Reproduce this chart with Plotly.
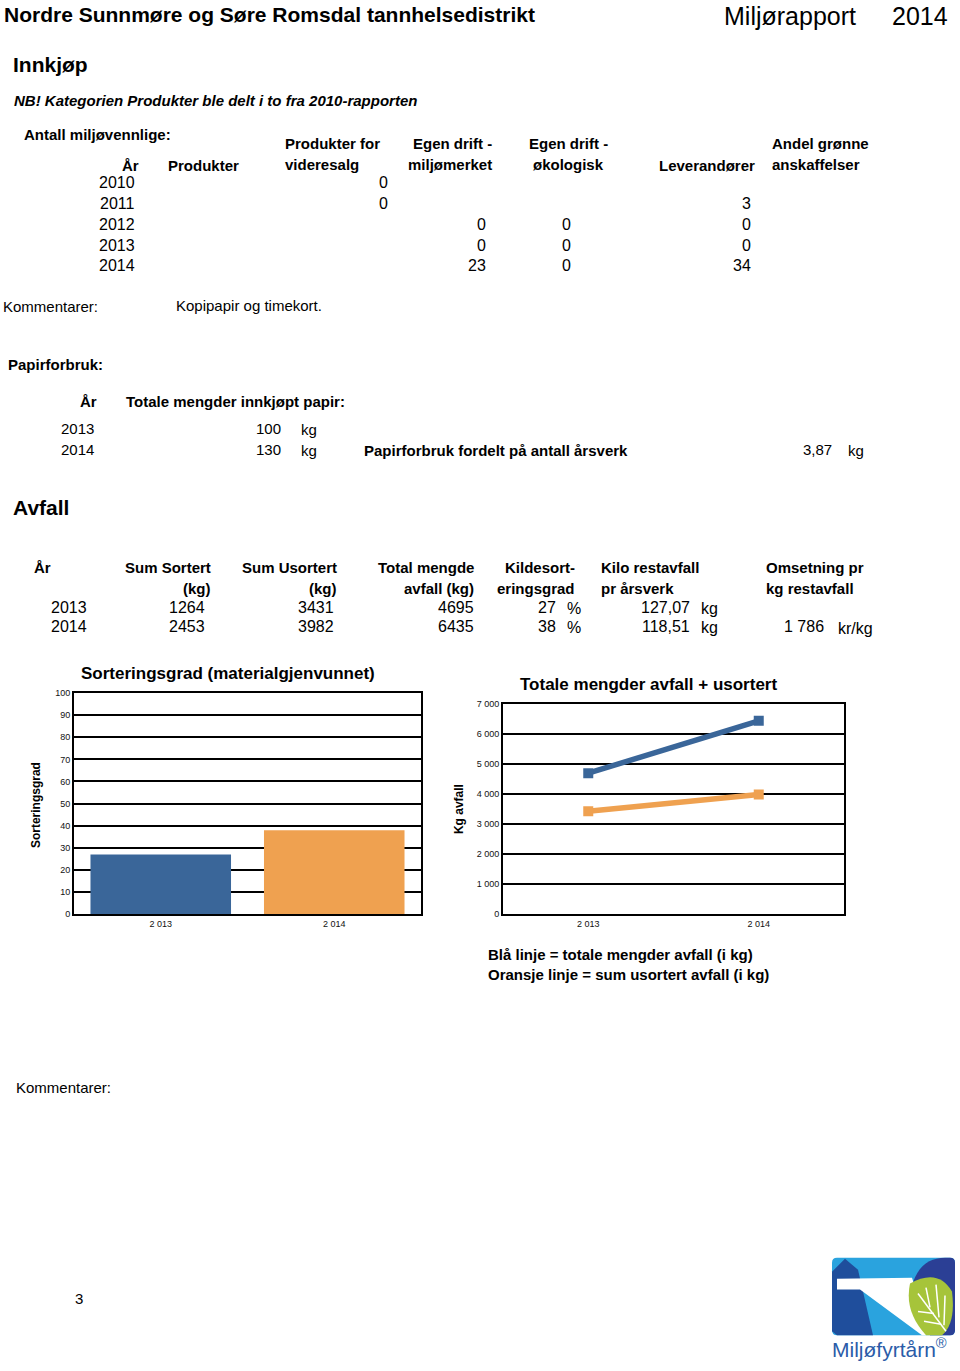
import plotly.graph_objects as go

W, H = 960, 1371

# ---------------- data ----------------
innkjop_years = [2010, 2011, 2012, 2013, 2014]
videresalg = [0, 0, None, None, None]
miljomerket = [None, None, 0, 0, 23]
okologisk = [None, None, 0, 0, 0]
leverandorer = [None, 3, 0, 0, 34]

papir_years = [2013, 2014]
papir_kg = [100, 130]
papir_per_aarsverk = "3,87"

avfall_years = [2013, 2014]
sum_sortert = [1264, 2453]
sum_usortert = [3431, 3982]
total_mengde = [4695, 6435]
kildesortering = [27, 38]
kilo_rest = ["127,07", "118,51"]
omsetning = [None, "1 786"]

chart_cats = ["2013", "2014"]
chart_ticktext = ["2 013", "2 014"]
bar_yticks = [0, 10, 20, 30, 40, 50, 60, 70, 80, 90, 100]
line_yticks = [0, 1000, 2000, 3000, 4000, 5000, 6000, 7000]
line_yticktext = ["0", "1 000", "2 000", "3 000", "4 000", "5 000", "6 000", "7 000"]

BLUE = "#3A6699"
ORANGE = "#EFA150"
ARIAL = "Liberation Sans, Arial, sans-serif"
NARROW = "Liberation Sans, Arial, sans-serif"

ann = []


def T(x, y, s, size=15, bold=False, anchor="left", font=ARIAL, color="#000",
      italic=False, angle=0):
    y = y - 2
    if bold:
        s = "<b>" + s + "</b>"
    if italic:
        s = "<i>" + s + "</i>"
    ann.append(dict(x=x / W, y=1 - y / H, xref="paper", yref="paper", text=s,
                    showarrow=False, xanchor=anchor, yanchor="middle",
                    textangle=angle,
                    font=dict(family=font, size=size, color=color)))


# ---------------- header ----------------
T(2, 12, "Nordre Sunnmøre og Søre Romsdal tannhelsedistrikt", 21, True, font=NARROW)
T(722, 13, "Miljørapport", 25, font=NARROW)
T(950, 13, "2014", 25, anchor="right", font=NARROW)

T(11, 62, "Innkjøp", 21, True, font=NARROW)
T(12, 98, "NB! Kategorien Produkter ble delt i to fra 2010-rapporten", 15, True,
  font=NARROW, italic=True)

TS = 15
T(22, 132, "Antall miljøvennlige:", TS, True, font=NARROW)
T(141, 164, "År", TS, True, anchor="right", font=NARROW)
T(166, 164, "Produkter", TS, True, font=NARROW)
T(283, 142, "Produkter for", TS, True, font=NARROW)
T(283, 163, "videresalg", TS, True, font=NARROW)
T(452, 142, "Egen drift -", TS, True, anchor="center", font=NARROW)
T(450, 163, "miljømerket", TS, True, anchor="center", font=NARROW)
T(568, 142, "Egen drift -", TS, True, anchor="center", font=NARROW)
T(568, 163, "økologisk", TS, True, anchor="center", font=NARROW)
T(757, 164, "Leverandører", TS, True, anchor="right", font=NARROW)
T(770, 142, "Andel grønne", TS, True, font=NARROW)
T(770, 163, "anskaffelser", TS, True, font=NARROW)

row_y = [181, 202, 223, 244, 264]
for i, yr in enumerate(innkjop_years):
    y = row_y[i]
    T(137, y, str(yr), 16, anchor="right", font=NARROW)
    if videresalg[i] is not None:
        T(390, y, str(videresalg[i]), 16, anchor="right", font=NARROW)
    if miljomerket[i] is not None:
        T(488, y, str(miljomerket[i]), 16, anchor="right", font=NARROW)
    if okologisk[i] is not None:
        T(573, y, str(okologisk[i]), 16, anchor="right", font=NARROW)
    if leverandorer[i] is not None:
        T(753, y, str(leverandorer[i]), 16, anchor="right", font=NARROW)

T(1, 306, "Kommentarer:", 15)
T(174, 305, "Kopipapir og timekort.", 15)

# ---------------- papir ----------------
T(6, 364, "Papirforbruk:", 15, True)
T(99, 401, "År", 15, True, anchor="right")
T(124, 401, "Totale mengder innkjøpt papir:", 15, True)
papir_row_y = [429, 450]
for i, yr in enumerate(papir_years):
    y = papir_row_y[i]
    T(59, y, str(yr), 15)
    T(283, y, str(papir_kg[i]), 15, anchor="right")
    T(299, y + 1, "kg", 15)
T(362, 451, "Papirforbruk fordelt på antall årsverk", 15, True)
T(834, 450, papir_per_aarsverk, 15, anchor="right")
T(846, 451, "kg", 15)

# ---------------- avfall table ----------------
T(11, 508, "Avfall", 21, True)
T(32, 569, "År", TS, True, font=NARROW)
T(213, 569, "Sum Sortert", TS, True, anchor="right", font=NARROW)
T(213, 590, "(kg)", TS, True, anchor="right", font=NARROW)
T(339, 569, "Sum Usortert", TS, True, anchor="right", font=NARROW)
T(339, 590, "(kg)", TS, True, anchor="right", font=NARROW)
T(476, 569, "Total mengde", TS, True, anchor="right", font=NARROW)
T(476, 590, "avfall (kg)", TS, True, anchor="right", font=NARROW)
T(577, 569, "Kildesort-", TS, True, anchor="right", font=NARROW)
T(577, 590, "eringsgrad", TS, True, anchor="right", font=NARROW)
T(599, 569, "Kilo restavfall", TS, True, font=NARROW)
T(599, 590, "pr årsverk", TS, True, font=NARROW)
T(764, 569, "Omsetning pr", TS, True, font=NARROW)
T(764, 590, "kg restavfall", TS, True, font=NARROW)

av_row_y = [609, 628]
for i, yr in enumerate(avfall_years):
    y = av_row_y[i]
    T(89, y, str(yr), 16, anchor="right", font=NARROW)
    T(207, y, str(sum_sortert[i]), 16, anchor="right", font=NARROW)
    T(336, y, str(sum_usortert[i]), 16, anchor="right", font=NARROW)
    T(476, y, str(total_mengde[i]), 16, anchor="right", font=NARROW)
    T(558, y, str(kildesortering[i]), 16, anchor="right", font=NARROW)
    T(565, y + 1, "%", 16, font=NARROW)
    T(692, y, kilo_rest[i], 16, anchor="right", font=NARROW)
    T(699, y + 1, "kg", 16, font=NARROW)
    if omsetning[i] is not None:
        T(826, y, omsetning[i], 16, anchor="right", font=NARROW)
        T(836, y + 2, "kr/kg", 16, font=NARROW)

# ---------------- charts ----------------
T(79, 675, "Sorteringsgrad (materialgjenvunnet)", 17, True)
T(518, 686, "Totale mengder avfall + usortert", 17, True)
T(36, 808, "Sorteringsgrad", 12, True, anchor="center", angle=-90)
T(459, 812, "Kg avfall", 12, True, anchor="center", angle=-90)

T(486, 958, "Blå linje = totale mengder avfall (i kg)", 15, True)
T(486, 979, "Oransje linje = sum usortert avfall (i kg)", 15, True)

T(14, 1092, "Kommentarer:", 15)
T(73, 1305, "3", 15)

fig = go.Figure()
fig.add_trace(go.Bar(x=chart_cats, y=kildesortering, marker=dict(color=[BLUE, ORANGE], line=dict(width=0)),
                     xaxis="x", yaxis="y", showlegend=False))
fig.add_trace(go.Scatter(x=chart_cats, y=total_mengde, mode="lines+markers",
                         line=dict(color=BLUE, width=5.5),
                         marker=dict(symbol="square", size=10, color=BLUE),
                         xaxis="x2", yaxis="y2", showlegend=False))
fig.add_trace(go.Scatter(x=chart_cats, y=sum_usortert, mode="lines+markers",
                         line=dict(color=ORANGE, width=5.5),
                         marker=dict(symbol="square", size=10, color=ORANGE),
                         xaxis="x2", yaxis="y2", showlegend=False))

tickfont = dict(family=ARIAL, size=9, color="#111")
common_x = dict(type="category", showline=True, linecolor="#000", linewidth=2,
                mirror=True, showgrid=False, ticks="", tickfont=tickfont,
                tickvals=chart_cats, ticktext=chart_ticktext, range=[-0.5, 1.5],
                fixedrange=True)
common_y = dict(showline=True, linecolor="#000", linewidth=2, mirror=True,
                showgrid=True, gridcolor="#000", gridwidth=1.6, ticks="",
                tickfont=tickfont, zeroline=False, fixedrange=True)

fig.update_layout(
    width=W, height=H, margin=dict(l=0, r=0, t=0, b=0),
    paper_bgcolor="white", plot_bgcolor="white",
    bargap=0.19,
    xaxis=dict(domain=[74 / W, 421 / W], anchor="y", **common_x),
    yaxis=dict(domain=[1 - 916 / H, 1 - 693 / H], anchor="x", range=[0, 100],
               tickvals=bar_yticks, **common_y),
    xaxis2=dict(domain=[503 / W, 844 / W], anchor="y2", **common_x),
    yaxis2=dict(domain=[1 - 916 / H, 1 - 704 / H], anchor="x2", range=[0, 7000],
                tickvals=line_yticks, ticktext=line_yticktext, **common_y),
    annotations=ann,
    font=dict(family=ARIAL),
)

# ---------------- logo (decorative) ----------------
def px(x, y):
    return f"{x / W:.5f},{1 - y / H:.5f}"


def path(points, close=True):
    d = "M " + " L ".join(px(x, y) for x, y in points)
    return d + (" Z" if close else "")


shapes = []
shapes.append(dict(type="path", xref="paper", yref="paper", layer="above",
                   path=("M " + px(837, 1262) + " L " + px(950, 1262) + " Q " + px(955, 1262) + " " + px(955, 1267)
                         + " L " + px(955, 1335) + " Q " + px(955, 1340) + " " + px(950, 1340)
                         + " L " + px(837, 1340) + " Q " + px(832, 1340) + " " + px(832, 1335)
                         + " L " + px(832, 1267) + " Q " + px(832, 1262) + " " + px(837, 1262) + " Z"),
                   fillcolor="#2AA3DE", line=dict(width=0)))
shapes.append(dict(type="path", xref="paper", yref="paper", layer="above",
                   path=("M " + px(912, 1290) + " Q " + px(920, 1262) + " " + px(945, 1262)
                         + " L " + px(950, 1262) + " Q " + px(955, 1262) + " " + px(955, 1267)
                         + " L " + px(955, 1335) + " Q " + px(955, 1340) + " " + px(950, 1340)
                         + " L " + px(930, 1340) + " Z"),
                   fillcolor="#2B3F95", line=dict(width=0)))
shapes.append(dict(type="path", xref="paper", yref="paper", layer="above",
                   path=path([(845, 1263), (858, 1274), (873, 1340), (837, 1340),
                              (832, 1336), (832, 1276)]),
                   fillcolor="#1F4E9C", line=dict(width=0)))
shapes.append(dict(type="path", xref="paper", yref="paper", layer="above",
                   path=path([(837, 1283), (912, 1282), (930, 1340), (922, 1340),
                              (860, 1294), (837, 1294)]),
                   fillcolor="white", line=dict(width=0)))
shapes.append(dict(type="path", xref="paper", yref="paper", layer="above",
                   path=("M " + px(910, 1288) + " Q " + px(938, 1272) + " " + px(952, 1296)
                         + " Q " + px(956, 1328) + " " + px(942, 1340)
                         + " L " + px(926, 1340) + " Q " + px(904, 1316) + " " + px(910, 1288) + " Z"),
                   fillcolor="#A6C43A", line=dict(width=0)))
for seg in [[(918, 1298), (946, 1336)], [(926, 1292), (930, 1312)], [(936, 1289), (939, 1322)],
            [(918, 1316), (934, 1318)], [(924, 1326), (941, 1329)], [(945, 1300), (944, 1330)]]:
    shapes.append(dict(type="path", xref="paper", yref="paper", layer="above",
                       path=path(seg, close=False),
                       line=dict(color="white", width=1.5)))
fig.update_layout(shapes=shapes)
fig.add_annotation(x=830 / W, y=1 - 1353 / H, xref="paper", yref="paper",
                   text="Miljøfyrtårn<sup>®</sup>", showarrow=False, xanchor="left",
                   yanchor="middle", font=dict(family=ARIAL, size=21, color="#2B5CA8"))

fig.write_html("out.html", config={"displayModeBar": False},
               post_script="document.body.style.margin='0px';document.body.style.overflow='hidden';")
